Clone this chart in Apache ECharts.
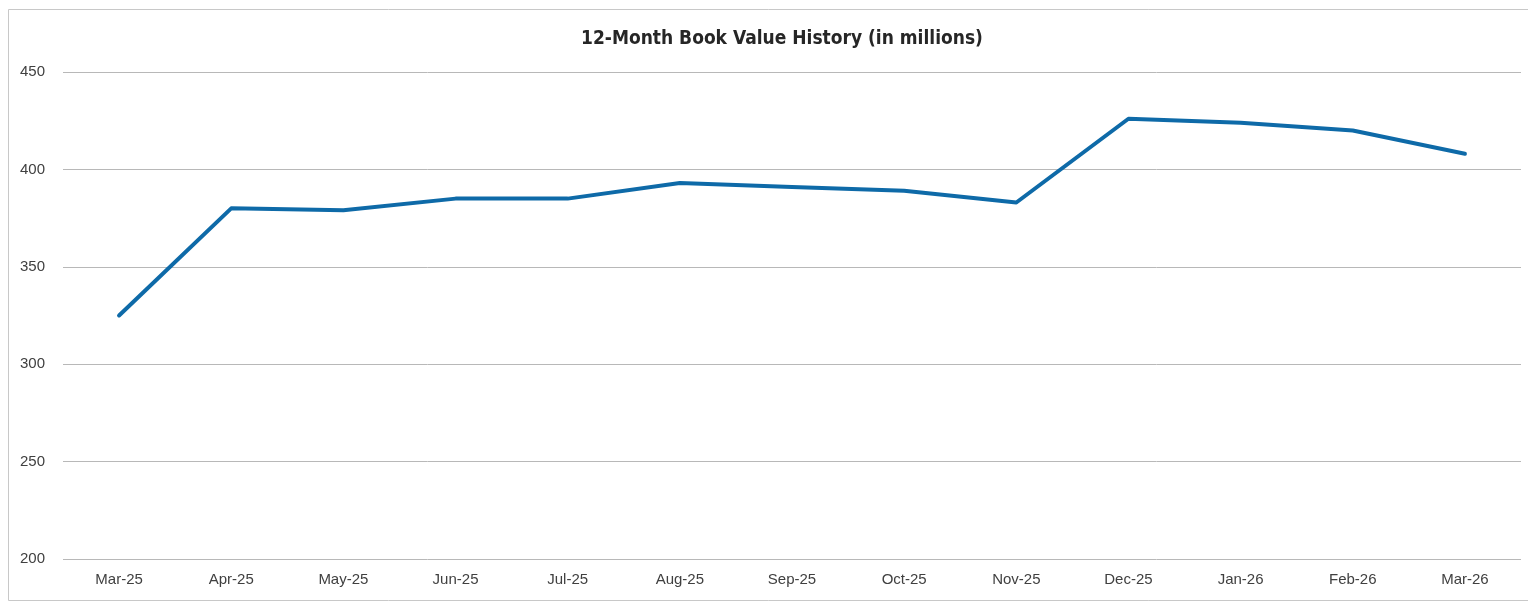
<!DOCTYPE html>
<html>
<head>
<meta charset="utf-8">
<script src="https://cdn.jsdelivr.net/npm/echarts@6/dist/echarts.min.js"></script>
<style>
html,body{margin:0;padding:0;background:#fff;}
#chart{width:1528px;height:605px;}
</style>
</head>
<body>
<div id="chart"></div>
<script>
const titleText = '12-Month Book Value History (in millions)';
const categories = ['Mar-25','Apr-25','May-25','Jun-25','Jul-25','Aug-25','Sep-25','Oct-25','Nov-25','Dec-25','Jan-26','Feb-26','Mar-26'];
const bookValues = [325, 380, 379, 385, 385, 393, 391, 389, 383, 426, 424, 420, 408];
const yTicks = { min: 200, max: 450, interval: 50 };

const chart = echarts.init(document.getElementById('chart'));
chart.setOption({
  backgroundColor: '#ffffff',
  animation: false,
  title: {
    text: titleText,
    left: 576,
    top: 25,
    textStyle: {
      fontFamily: '"Liberation Sans Narrow","DejaVu Sans Condensed","Liberation Sans",sans-serif',
      fontWeight: 'bold',
      fontSize: 19,
      color: '#262626'
    }
  },
  graphic: [{
    type: 'rect',
    shape: { x: 8.5, y: 9.5, width: 1530, height: 591 },
    style: { fill: 'none', stroke: '#c8c8c8', lineWidth: 1 },
    silent: true,
    z: -1
  }],
  grid: { left: 63, right: 7, top: 72, bottom: 46, containLabel: false },
  xAxis: {
    type: 'category',
    data: categories,
    boundaryGap: true,
    axisLine: { show: false },
    axisTick: { show: false },
    axisLabel: {
      margin: 13,
      fontFamily: '"Liberation Sans",Arial,sans-serif',
      fontSize: 15,
      color: '#404040'
    }
  },
  yAxis: {
    type: 'value',
    min: yTicks.min,
    max: yTicks.max,
    interval: yTicks.interval,
    axisLine: { show: false },
    axisTick: { show: false },
    axisLabel: {
      margin: 18,
      fontFamily: '"Liberation Sans",Arial,sans-serif',
      fontSize: 15,
      color: '#404040'
    },
    splitLine: { lineStyle: { color: '#b8b8b8', width: 1 } }
  },
  series: [{
    type: 'line',
    data: bookValues,
    symbol: 'none',
    lineStyle: { color: '#0e6aa8', width: 4, cap: 'round', join: 'round' }
  }]
});
</script>
</body>
</html>
